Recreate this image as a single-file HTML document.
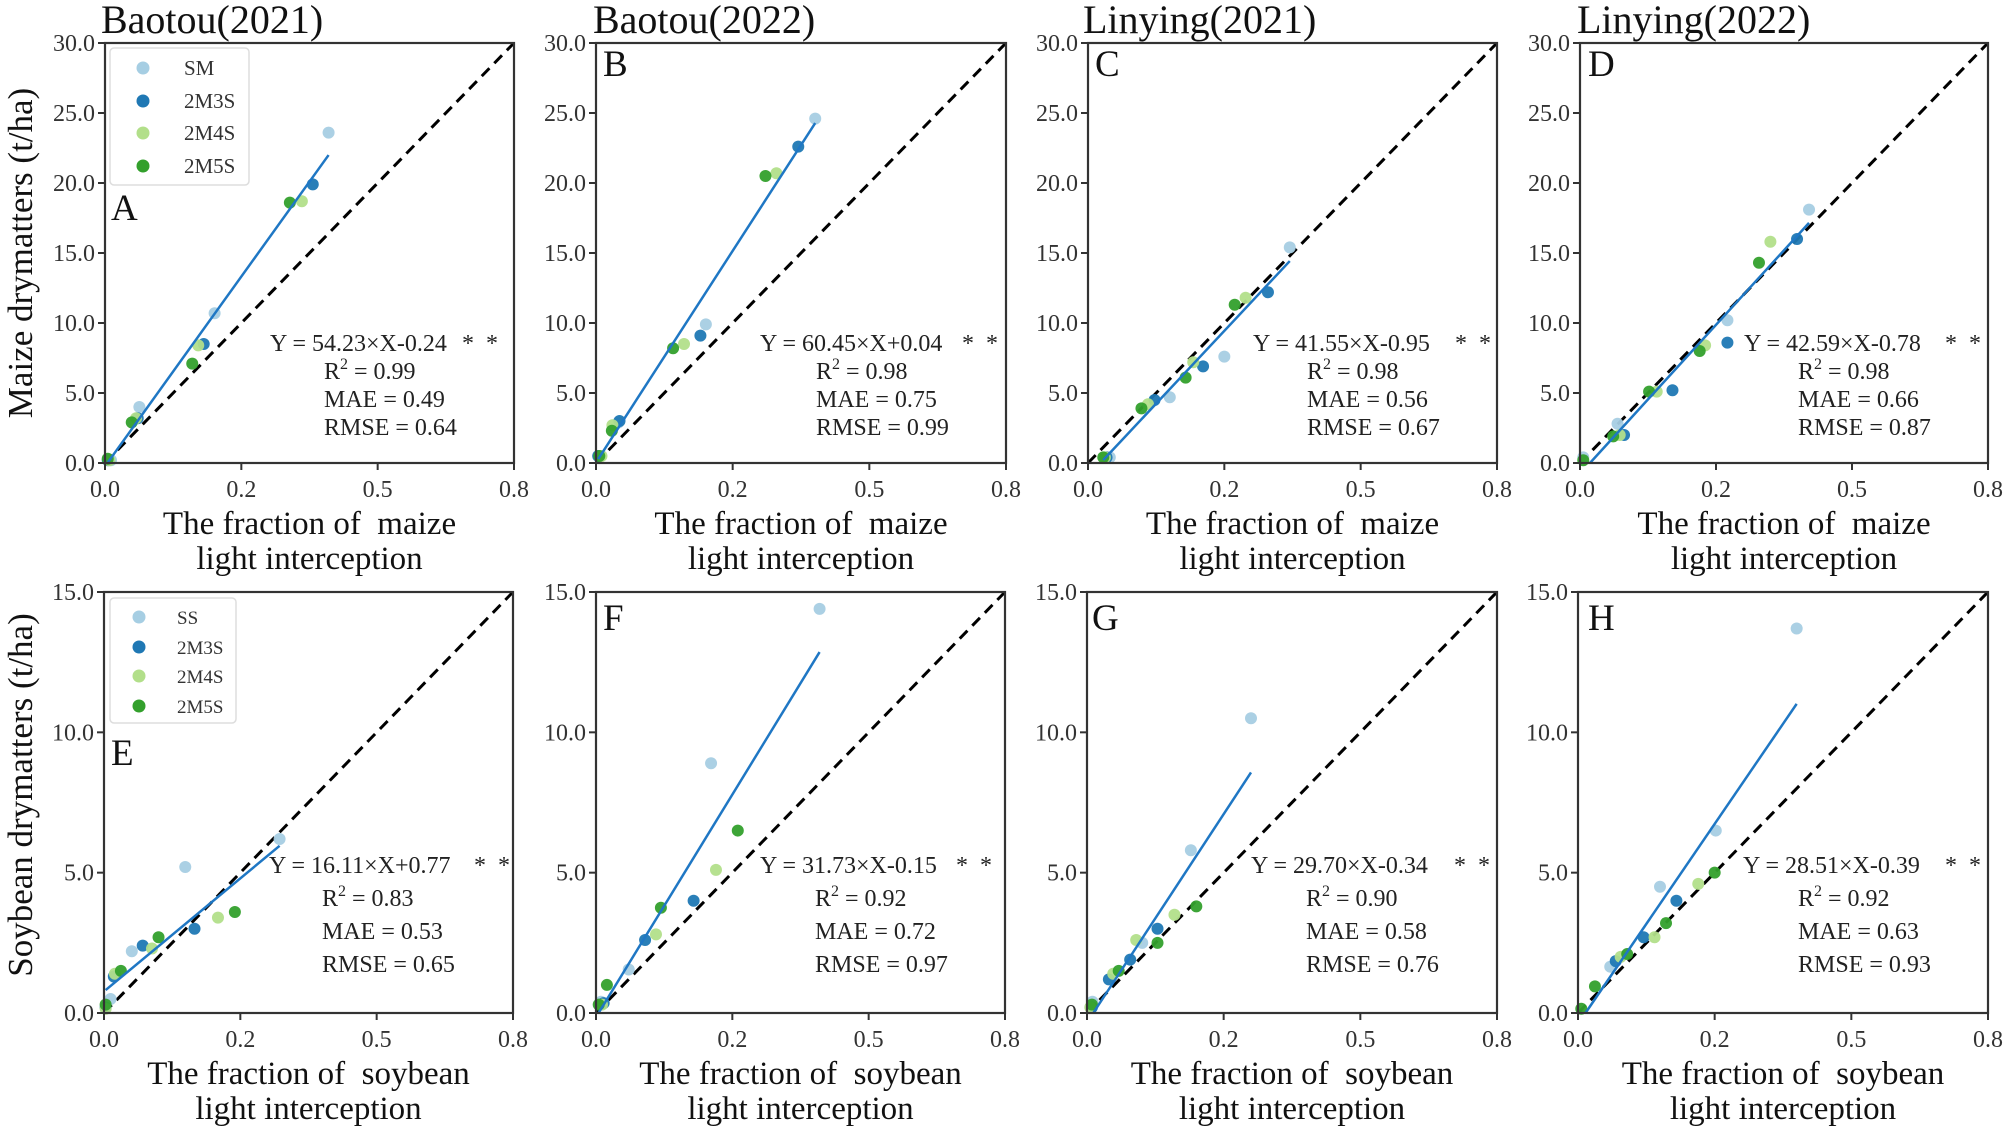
<!DOCTYPE html>
<html><head><meta charset="utf-8"><style>
html,body{margin:0;padding:0;background:#fff;}
svg{display:block;font-family:"Liberation Serif",serif;}
svg text{white-space:pre;}
</style></head><body>
<svg id="fig" width="2009" height="1135" viewBox="0 0 2009 1135" xmlns="http://www.w3.org/2000/svg"></svg>
<script>
// ---- data ----
const seriesTop = ["SM","2M3S","2M4S","2M5S"];
const seriesBottom = ["SS","2M3S","2M4S","2M5S"];
const colors = ["#a6cee3","#1f78b4","#b2df8a","#33a02c"];
const xTicks = [0,0.25,0.5,0.75];
const xTickLabels = ["0.0","0.2","0.5","0.8"];
const yTicksTop = [0,5,10,15,20,25,30];
const yTicksBottom = [0,5,10,15];
const titles = ["Baotou(2021)","Baotou(2022)","Linying(2021)","Linying(2022)"];
const letters = ["A","B","C","D","E","F","G","H"];
const xA=[[0.410,0.201,0.063,0.011],[0.381,0.181,0.060,0.005],[0.361,0.171,0.057,0.008],[0.339,0.160,0.049,0.005]];
const yA=[[23.6,10.7,4.0,0.2],[19.9,8.5,3.2,0.2],[18.7,8.4,3.2,0.2],[18.6,7.1,2.9,0.3]];
const xB=[[0.401,0.201,0.041,0.007],[0.370,0.191,0.043,0.004],[0.330,0.161,0.030,0.010],[0.310,0.141,0.029,0.006]];
const yB=[[24.6,9.9,2.9,0.5],[22.6,9.1,3.0,0.5],[20.7,8.5,2.7,0.5],[20.5,8.2,2.3,0.5]];
const xC=[[0.370,0.250,0.150,0.040],[0.330,0.211,0.122,0.034],[0.289,0.193,0.110,0.031],[0.269,0.179,0.098,0.028]];
const yC=[[15.4,7.6,4.7,0.4],[12.2,6.9,4.5,0.4],[11.8,7.2,4.2,0.4],[11.3,6.1,3.9,0.4]];
const xD=[[0.421,0.271,0.069,0.006],[0.399,0.271,0.170,0.081],[0.350,0.230,0.141,0.073],[0.329,0.220,0.127,0.061,0.006]];
const yD=[[18.1,10.2,2.8,0.4],[16.0,8.6,5.2,2.0],[15.8,8.4,5.1,2.0],[14.3,8.0,5.1,1.9,0.2]];
const xE=[[0.322,0.149,0.051,0.012],[0.166,0.071,0.018,0.003],[0.209,0.088,0.020,0.003],[0.240,0.100,0.031,0.003]];
const yE=[[6.2,5.2,2.2,0.5],[3.0,2.4,1.3,0.2],[3.4,2.3,1.4,0.15],[3.6,2.7,1.5,0.3]];
const xF=[[0.410,0.211,0.060,0.009],[0.179,0.090,0.014],[0.220,0.110,0.011],[0.260,0.119,0.020,0.005]];
const yF=[[14.4,8.9,1.55,0.4],[4.0,2.6,0.35],[5.1,2.8,0.3],[6.5,3.75,1.0,0.3]];
const xG=[[0.300,0.190,0.101,0.010],[0.129,0.079,0.040,0.009],[0.160,0.090,0.048,0.006],[0.200,0.129,0.058,0.009]];
const yG=[[10.5,5.8,2.5,0.4],[3.0,1.9,1.2,0.2],[3.5,2.6,1.4,0.2],[3.8,2.5,1.5,0.3]];
const xH=[[0.400,0.252,0.150,0.059],[0.180,0.120,0.069],[0.220,0.140,0.078],[0.250,0.161,0.090,0.031,0.006]];
const yH=[[13.7,6.5,4.5,1.65],[4.0,2.7,1.85],[4.6,2.7,2.0],[5.0,3.2,2.1,0.95,0.15]];
const slopes = [54.23,60.45,41.55,42.59,16.11,31.73,29.70,28.51];
const intercepts = [-0.24,0.04,-0.95,-0.78,0.77,-0.15,-0.34,-0.39];
const r2s = ["0.99","0.98","0.98","0.98","0.83","0.92","0.90","0.92"];
const maes = ["0.49","0.75","0.56","0.66","0.53","0.72","0.58","0.63"];
const rmses = ["0.64","0.99","0.67","0.87","0.65","0.97","0.76","0.93"];
const eqs = ["Y = 54.23×X-0.24","Y = 60.45×X+0.04","Y = 41.55×X-0.95","Y = 42.59×X-0.78","Y = 16.11×X+0.77","Y = 31.73×X-0.15","Y = 29.70×X-0.34","Y = 28.51×X-0.39"];

// ---- layout (pixels) ----
const NS="http://www.w3.org/2000/svg";
const svg=document.getElementById('fig');
const panels=[
 {l:105,r:514,t:43,b:463,ymax:30,X:xA,Y:yA,eqx:270,rx:324,sx:462,base:351,ls:28,lx:111,ly:220},
 {l:596,r:1006,t:43,b:463,ymax:30,X:xB,Y:yB,eqx:760,rx:816,sx:962,base:351,ls:28,lx:603,ly:76},
 {l:1088,r:1497,t:43,b:463,ymax:30,X:xC,Y:yC,eqx:1253,rx:1307,sx:1455,base:351,ls:28,lx:1095,ly:76},
 {l:1580,r:1988,t:43,b:463,ymax:30,X:xD,Y:yD,eqx:1744,rx:1798,sx:1945,base:351,ls:28,lx:1588,ly:76},
 {l:104,r:513,t:592,b:1013,ymax:15,X:xE,Y:yE,eqx:269,rx:322,sx:474,base:873,ls:33,lx:111,ly:765},
 {l:596,r:1005,t:592,b:1013,ymax:15,X:xF,Y:yF,eqx:760,rx:815,sx:956,base:873,ls:33,lx:603,ly:630},
 {l:1087,r:1497,t:592,b:1013,ymax:15,X:xG,Y:yG,eqx:1251,rx:1306,sx:1454,base:873,ls:33,lx:1092,ly:630},
 {l:1578,r:1988,t:592,b:1013,ymax:15,X:xH,Y:yH,eqx:1743,rx:1798,sx:1945,base:873,ls:33,lx:1588,ly:630}
];
function mk(tag,attrs,parent){const e=document.createElementNS(NS,tag);for(const k in attrs)e.setAttribute(k,attrs[k]);(parent||svg).appendChild(e);return e;}
function txt(s,attrs,parent){const e=mk('text',attrs,parent);e.textContent=s;return e;}

panels.forEach((p,i)=>{
  const g=mk('g',{});
  
  
  const sx=v=>p.l+(v/0.75)*(p.r-p.l);
  const sy=v=>p.b-(v/p.ymax)*(p.b-p.t);
  const yT = p.ymax===30?yTicksTop:yTicksBottom;
  const d=mk('line',{x1:sx(0),y1:sy(0),x2:sx(0.75),y2:sy(p.ymax),stroke:'#000','stroke-width':3,'stroke-dasharray':'11,7'},g);
  
  
  p.X.forEach((xs,s)=>{
    xs.forEach((xv,k)=>{
      const c=mk('circle',{cx:sx(xv),cy:sy(p.Y[s][k]),r:6,fill:colors[s],'fill-opacity':0.95},g);
      
      
    });
  });
  let allx=[].concat(...p.X);
  let x0=Math.min(...allx), x1=Math.max(...allx);
  const zero=-intercepts[i]/slopes[i];
  if(slopes[i]*x0+intercepts[i]<0) x0=zero;
  const rl=mk('line',{x1:sx(x0),y1:sy(slopes[i]*x0+intercepts[i]),x2:sx(x1),y2:sy(slopes[i]*x1+intercepts[i]),stroke:'#1f77c4','stroke-width':2.5},g);
  
  
  const fr=mk('rect',{x:p.l,y:p.t,width:p.r-p.l,height:p.b-p.t,fill:'none',stroke:'#333','stroke-width':2.2},g);
  
  
  xTicks.forEach((t,k)=>{
    mk('line',{x1:sx(t),y1:p.b,x2:sx(t),y2:p.b+7,stroke:'#333','stroke-width':2},g);
    const tl=txt(xTickLabels[k],{x:sx(t),y:p.b+34,'font-size':24,'text-anchor':'middle',fill:'#333'},g);
    
    
  });
  yT.forEach(t=>{
    mk('line',{x1:p.l-7,y1:sy(t),x2:p.l,y2:sy(t),stroke:'#333','stroke-width':2},g);
    const tl=txt(t.toFixed(1),{x:p.l-10,y:sy(t)+8,'font-size':24,'text-anchor':'end',fill:'#333'},g);
    
    
  });
  const cx=(p.l+p.r)/2;
  const crop=i<4?'maize':'soybean';
  const xt1=txt('The fraction of  '+crop,{x:cx,y:p.b+71,'font-size':33,'text-anchor':'middle',fill:'#111'},g);
  
  
  const xt2=txt('light interception',{x:cx,y:p.b+106,'font-size':33,'text-anchor':'middle',fill:'#111'},g);
  
  
  const lt=txt(letters[i],{x:p.lx,y:p.ly,'font-size':37,fill:'#111'},g);
  
  
  const st=mk('g',{'font-size':24,fill:'#222'},g);
  
  
  txt(eqs[i],{x:p.eqx,y:p.base},st);
  txt('*  *',{x:p.sx,y:p.base},st);
  const r2=txt('R',{x:p.rx,y:p.base+p.ls},st);
  const sup=mk('tspan',{dy:-10,'font-size':16},r2); sup.textContent='2';
  const rest=mk('tspan',{dy:10},r2); rest.textContent=' = '+r2s[i];
  txt('MAE = '+maes[i],{x:p.rx,y:p.base+2*p.ls},st);
  txt('RMSE = '+rmses[i],{x:p.rx,y:p.base+3*p.ls},st);
});

const titleX=[101,593,1083,1577];
titles.forEach((t,k)=>{
  const e=txt(t,{x:titleX[k],y:33,'font-size':40,fill:'#111'});
  
  
});
const ya=txt('Maize drymatters (t/ha)',{x:0,y:0,'font-size':35,'text-anchor':'middle',fill:'#111',transform:'translate(32,253) rotate(-90)'});


const yb=txt('Soybean drymatters (t/ha)',{x:0,y:0,'font-size':35,'text-anchor':'middle',fill:'#111',transform:'translate(32,795) rotate(-90)'});



function legend(names,x,y,w,h,mx,tx,ys,fs){
  const g=mk('g',{});
  
  
  mk('rect',{x:x,y:y,width:w,height:h,rx:4,fill:'#fff',stroke:'#ddd','stroke-width':1.5},g);
  names.forEach((n,k)=>{
    const c=mk('circle',{cx:mx,cy:ys[k],r:6.5,fill:colors[k]},g);
    
    
    const t=txt(n,{x:tx,y:ys[k]+7,'font-size':fs,fill:'#333'},g);
    
    
  });
}
legend(seriesTop,110,48,139,137,143,184,[68,101,133,166],21);
legend(seriesBottom,110,598,126,125,139,177,[617,647,676,706],19);
</script>
</body></html>
